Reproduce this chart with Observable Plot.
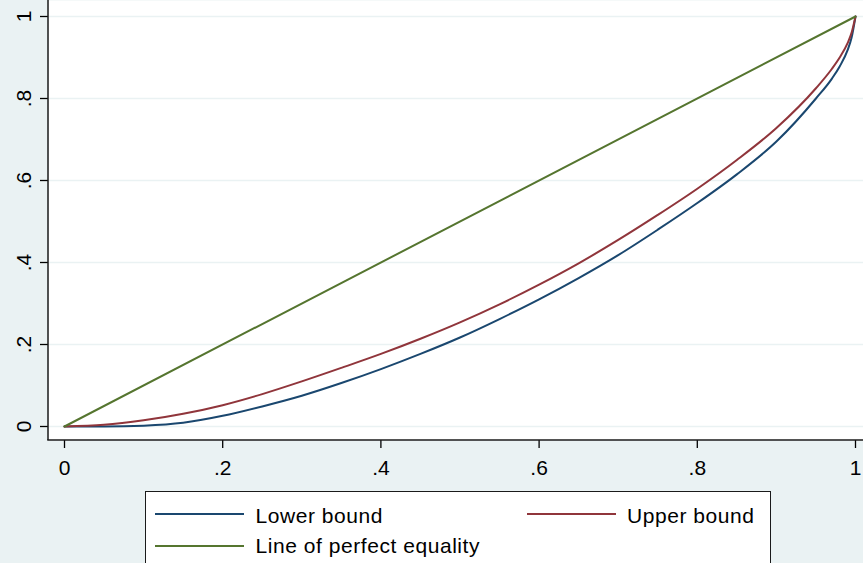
<!DOCTYPE html>
<html><head><meta charset="utf-8">
<script src="https://cdn.jsdelivr.net/npm/d3@7"></script>
<script src="https://cdn.jsdelivr.net/npm/@observablehq/plot@0.6"></script>
<style>
html,body{margin:0;padding:0;background:#eaf2f3;overflow:hidden;}
#wrap{position:relative;width:863px;height:563px;font-family:"Liberation Sans",Arial,sans-serif;}
#chart{position:absolute;left:0;top:0;}
#legendBox{position:absolute;left:145px;top:491px;width:626px;height:100px;background:#fff;border:1.5px solid #1a1a1a;box-sizing:border-box;}
.key{position:absolute;height:2px;width:89px;}
.lab{position:absolute;font-size:21px;line-height:20px;letter-spacing:0.55px;color:#000;white-space:nowrap;}
</style></head><body>
<div id="wrap"><div id="chart"></div><div id="legendBox"></div></div>
<script>
// Cumulative population share
const pop   = [0, 0.05, 0.1, 0.15, 0.2, 0.25, 0.3, 0.35, 0.4, 0.45, 0.5, 0.55, 0.6, 0.65, 0.7, 0.75, 0.8, 0.85, 0.9, 0.95, 0.97, 0.98, 0.99, 0.995, 1];
// Lower bound Lorenz curve
const lower = [0, 0, 0.002, 0.009, 0.026, 0.049, 0.075, 0.106, 0.140, 0.177, 0.217, 0.262, 0.310, 0.362, 0.418, 0.480, 0.545, 0.615, 0.695, 0.800, 0.848, 0.878, 0.918, 0.948, 1];
// Upper bound Lorenz curve
const upper = [0, 0.004, 0.015, 0.031, 0.052, 0.079, 0.110, 0.143, 0.177, 0.214, 0.254, 0.298, 0.346, 0.398, 0.455, 0.516, 0.580, 0.650, 0.728, 0.825, 0.872, 0.900, 0.935, 0.960, 1];
// Line of perfect equality
const equalityX = [0, 1];
const equalityY = [0, 1];

const seriesNames  = ["Lower bound", "Upper bound", "Line of perfect equality"];
const seriesColors = ["#1a476f", "#90353b", "#55752f"];

const xTicks = [0, 0.2, 0.4, 0.6, 0.8, 1];
const xTickLabels = ["0", ".2", ".4", ".6", ".8", "1"];
const yTicks = [0, 0.2, 0.4, 0.6, 0.8, 1];
const yTickLabels = ["0", ".2", ".4", ".6", ".8", "1"];

const rows = [];
pop.forEach((p, i) => rows.push({x: p, y: lower[i], series: seriesNames[0]}));
pop.forEach((p, i) => rows.push({x: p, y: upper[i], series: seriesNames[1]}));
equalityX.forEach((p, i) => rows.push({x: p, y: equalityY[i], series: seriesNames[2]}));

const W = 863, H = 490, ML = 48, MB = 50;
const font = "'Liberation Sans', Arial, sans-serif";

const chart = Plot.plot({
  width: W, height: H,
  marginLeft: ML, marginRight: 0, marginTop: 0, marginBottom: MB,
  style: {background: "transparent", fontFamily: font, fontSize: "21px", color: "#000", overflow: "visible"},
  x: {domain: [0, 1], range: [64, 855]},
  y: {domain: [0, 1], range: [426, 16]},
  color: {domain: seriesNames, range: seriesColors},
  marks: [
    Plot.frame({fill: "#fff", stroke: null}),
    Plot.gridY(yTicks, {stroke: "#eaf2f3", strokeOpacity: 1, strokeWidth: 1.5}),
    Plot.line(rows, {x: "x", y: "y", z: "series", stroke: "series", strokeWidth: 2, curve: "monotone-x"}),
    Plot.axisX(xTicks, {tickSize: 8, tickPadding: 12, fontSize: 21, color: "#000", strokeWidth: 1.3,
      tickFormat: d => xTickLabels[xTicks.indexOf(d)], label: null}),
    Plot.axisY(yTicks, {tickSize: 8, tickPadding: 10, tickRotate: -90, fontSize: 21, color: "#000", strokeWidth: 1.3,
      tickFormat: d => yTickLabels[yTicks.indexOf(d)], label: null})
  ]
});

const svg = d3.select(chart);
svg.append("line").attr("x1", ML).attr("x2", ML).attr("y1", 0).attr("y2", H - MB)
  .attr("stroke", "#1a1a1a").attr("stroke-width", 1.5);
svg.append("line").attr("x1", ML - 0.75).attr("x2", W).attr("y1", H - MB).attr("y2", H - MB)
  .attr("stroke", "#1a1a1a").attr("stroke-width", 1.5);

document.getElementById("chart").appendChild(chart);

// Legend
const wrap = document.getElementById("wrap");
const legendItems = [
  {name: seriesNames[0], color: seriesColors[0], kx: 155, ky: 513.3, tx: 255.5, ty: 505.5},
  {name: seriesNames[1], color: seriesColors[1], kx: 527, ky: 513.3, tx: 627, ty: 505.5},
  {name: seriesNames[2], color: seriesColors[2], kx: 155, ky: 545, tx: 255.5, ty: 536}
];
legendItems.forEach(it => {
  const k = document.createElement("div");
  k.className = "key";
  k.style.left = it.kx + "px"; k.style.top = it.ky + "px"; k.style.background = it.color;
  wrap.appendChild(k);
  const t = document.createElement("div");
  t.className = "lab";
  t.style.left = it.tx + "px"; t.style.top = it.ty + "px";
  t.textContent = it.name;
  wrap.appendChild(t);
});
</script>
</body></html>
